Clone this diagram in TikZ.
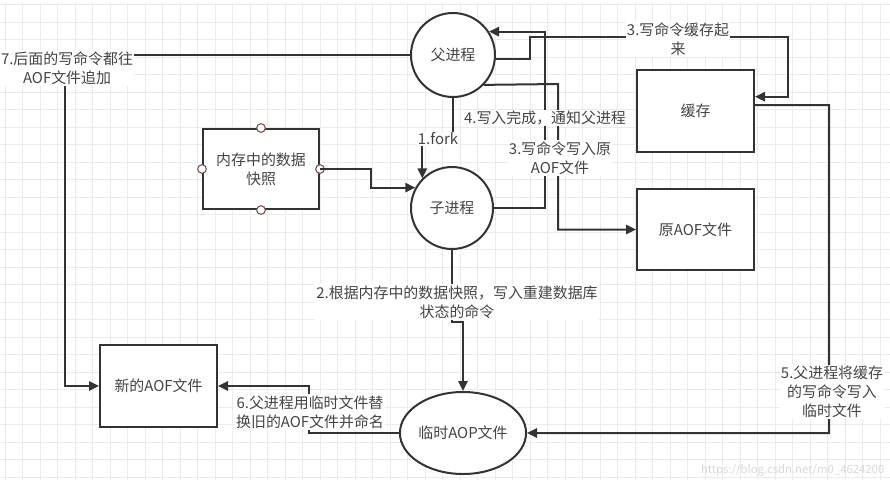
\documentclass[tikz,border=0pt]{standalone}
\usepackage{fontspec}
\setmainfont{Noto Sans CJK SC}
\usetikzlibrary{arrows.meta,shapes.geometric,calc}
\definecolor{ln}{HTML}{333333}
\definecolor{tx}{HTML}{444444}
\definecolor{gr}{HTML}{EBEBEB}
\definecolor{pt}{HTML}{7A5555}
\begin{document}
\begin{tikzpicture}[x=0.75pt,y=-0.75pt,
  every node/.style={font=\fontsize{11.2}{14.4}\selectfont, text=tx},
  box/.style={draw=ln, line width=1.5pt, minimum width=87.75pt, minimum height=61.5pt, inner sep=0pt, align=center, fill=white},
  proc/.style={circle, draw=ln, line width=1.5pt, inner sep=0pt, fill=white},
  conn/.style={draw=ln, line width=1.5pt, -{Triangle[length=7.5pt,width=7pt]}},
  lbl/.style={fill=white, inner sep=1pt, align=center},
  port/.style={circle, draw=pt, fill=white, minimum size=6.5pt, inner sep=0pt, line width=0.8pt}]
\useasboundingbox (0,0) rectangle (890,480);
\fill[white] (0,0) rectangle (890,480);
% grid
\foreach \i in {0,...,50} \draw[gr, line width=0.75pt] (5+17.5*\i,4.5) -- (5+17.5*\i,480);
\foreach \j in {0,...,27} \draw[gr, line width=0.75pt] (0,4.5+17.5*\j) -- (890,4.5+17.5*\j);

% nodes
\node[proc, minimum size=63pt] (fu) at (453,55) {父进程};
\node[proc, minimum size=61.5pt] (zi) at (452,208) {子进程};
\node[box, minimum width=87pt, minimum height=60pt] (mem) at (261,169) {内存中的数据\\快照};
\node[box] (cache) at (695.5,111) {缓存};
\node[box, minimum height=60.75pt] (orig) at (695.5,229.5) {原AOF文件};
\node[box] (new) at (158.5,386) {新的AOF文件};
\node[ellipse, draw=ln, line width=1.5pt, fill=white, inner sep=0pt, minimum width=88.5pt, minimum height=61.5pt] (tmp) at (463,433) {临时AOP文件};
\foreach \a in {north,south,east,west} \node[port] (mem-\a) at (mem.\a) {};

% connectors
\draw[conn] (fu.south) -- ++(0,45) -| (zi.135);
\draw[conn] (mem.east) -- ++(51,0) |- (zi.151);
\draw[conn] (zi.east) -- ++(51,0) |- (fu.33);
\draw[conn] (zi.south) -- ++(0,72) -| (tmp.north);
\draw[conn] (fu.west) -- (65,55) |- (new.west);
\draw[conn] (fu.-5) -- ++(34,0) |- (788,37) |- ($(cache.north east)!0.33!(cache.south east)$);
\draw[conn] (fu.-44) -- (558,84) |- (orig.west);
\draw[conn] ($(cache.north east)!0.43!(cache.south east)$) -- (829,105) |- (tmp.east);
\draw[conn] (tmp.west) -- (309,433) |- (new.east);

% labels
\node[lbl] (l1) at (438,139) {1.fork};
\node[lbl] (l2) at (457,302) {2.根据内存中的数据快照，写入重建数据库\\状态的命令};
\node[lbl] (l3a) at (678,39) {3.写命令缓存起\\来};
\node[lbl] (l3b) at (560,158) {3.写命令写入原\\AOF文件};
\node[lbl] (l4) at (545,118) {4.写入完成，通知父进程};
\node[lbl] (l5) at (832,392) {5.父进程将缓存\\的写命令写入\\临时文件};
\node[lbl] (l6) at (310,412) {6.父进程用临时文件替\\换旧的AOF文件并命名};
\node[lbl] (l7) at (67,68) {7.后面的写命令都往\\AOF文件追加};
\node[anchor=east, text=gray!30, font=\fontsize{8.5}{10}\selectfont] (wm) at (889,470) {https://blog.csdn.net/m0\_4624200};
\end{tikzpicture}
\end{document}
